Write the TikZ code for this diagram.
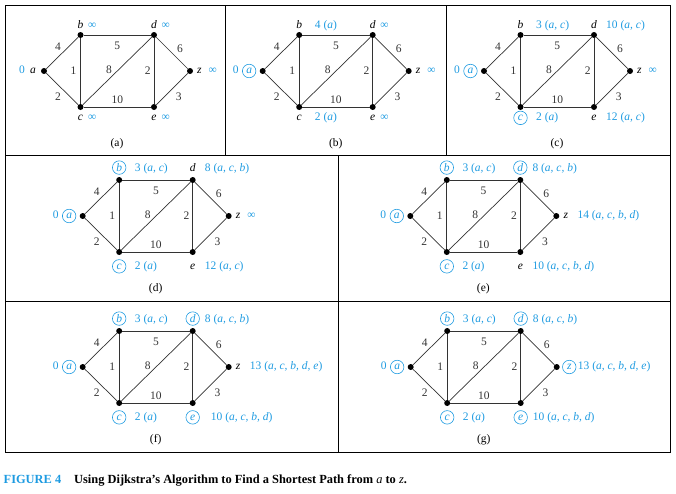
\documentclass[tikz,border=0pt]{standalone}
\usepackage{fontspec}
\setmainfont{Liberation Serif}
\usetikzlibrary{positioning, calc}

\definecolor{dijblue}{RGB}{30,155,225}
\newcommand{\lblfont}{\fontsize{11.5}{13.5}\selectfont}

% one copy of the weighted graph, vertices named #1a ... #1z
\newcommand{\dgraph}[4]{%
  \begin{scope}[shift={(#2,#3)}]
    \node[vtx] (#1a) at (0,0) {};
    \node[vtx] (#1b) at (36.5,-36) {};
    \node[vtx] (#1c) at (36.5,36) {};
    \node[vtx] (#1d) at (110,-36) {};
    \node[vtx] (#1e) at (110,36) {};
    \node[vtx] (#1z) at (146,0) {};
    \draw[link] (#1a) -- node[wt, xshift=-4.2pt, yshift=6.3pt] {4} (#1b);
    \draw[link] (#1a) -- node[wt, xshift=-4.2pt, yshift=-7.7pt] {2} (#1c);
    \draw[link] (#1b) -- node[wt, xshift=-7pt] {1} (#1c);
    \draw[link] (#1b) -- node[wt, yshift=-10.7pt] {5} (#1d);
    \draw[link] (#1c) -- node[wt, xshift=-8.2pt, yshift=1.7pt] {8} (#1d);
    \draw[link] (#1d) -- node[wt, xshift=-6.3pt] {2} (#1e);
    \draw[link] (#1c) -- node[wt, yshift=7.7pt] {10} (#1e);
    \draw[link] (#1d) -- node[wt, xshift=8pt, yshift=4.7pt] {6} (#1z);
    \draw[link] (#1e) -- node[wt, xshift=6.7pt, yshift=-7.7pt] {3} (#1z);
    \node[panelcap] (#1cap) at (73,72.5) {(#4)};
  \end{scope}}

\begin{document}
\begin{tikzpicture}[
  x=1pt, y=-1pt,
  vtx/.style={circle, fill=black, inner sep=0pt, minimum size=6pt},
  link/.style={black!80, line width=0.7pt},
  wt/.style={font=\lblfont, inner sep=0pt},
  tagp/.style={font=\lblfont, inner sep=1.5pt},
  seen/.style={circle, draw=dijblue, text=dijblue, line width=0.6pt,
    inner sep=0pt, minimum size=13.5pt, font=\lblfont},
  val/.style={font=\lblfont, text=dijblue, inner sep=0pt},
  spot a/.style={anchor=east, xshift=-6.5pt},
  spot b/.style={anchor=base, yshift=\tagrise},
  spot d/.style={anchor=base, yshift=\tagrise},
  spot c/.style={anchor=base, yshift=-\tagdrop},
  spot e/.style={anchor=base, yshift=-\tagdrop},
  spot z/.style={anchor=west, xshift=5.5pt},
  vspot a/.style={anchor=base east},
  vspot b/.style={anchor=base west},
  vspot c/.style={anchor=base west},
  vspot d/.style={anchor=base west},
  vspot e/.style={anchor=base west},
  vspot z/.style={anchor=base west},
  frame/.style={black, line width=0.8pt},
  panelcap/.style={font=\lblfont, inner sep=0pt},
  capno/.style={font=\fontsize{12.4}{14}\selectfont\bfseries, text=dijblue, inner sep=0pt},
  captext/.style={font=\fontsize{12.4}{14}\selectfont\bfseries, inner sep=0pt},
]
\useasboundingbox (0,0) rectangle (676,493);

% --- panel frames ---
\draw[frame] (5,5) rectangle (670.5,452);
\draw[frame] (5,155.7) -- (670.5,155.7);
\draw[frame] (5,301) -- (670.5,301);
\draw[frame] (225.5,5) -- (225.5,155.7);
\draw[frame] (446.5,5) -- (446.5,155.7);
\draw[frame] (338,155.7) -- (338,452);

% --- top row ---
\def\tagrise{7pt}\def\tagdrop{13.5pt}
\dgraph{A}{44}{71}{a}
\dgraph{B}{262.7}{71}{b}
\dgraph{C}{484}{71}{c}

\foreach \v/\k/\dx/\t in {a/tagp/-19/0, b/tagp/7.5/∞, c/tagp/7.5/∞,
    d/tagp/7.5/∞, e/tagp/7.5/∞, z/tagp/18.5/∞}{
  \node[\k, spot \v] (A\v t) at (A\v) {\textit{\v}};
  \node[val, vspot \v] (A\v v) at ($(A\v |- A\v t.base)+(\dx,0)$) {\t};
}
\foreach \v/\k/\dx/\t in {a/seen/-24/0, b/tagp/15.5/{4 (\textit{a})},
    c/tagp/15.5/{2 (\textit{a})}, d/tagp/7.5/∞, e/tagp/7.5/∞, z/tagp/18.5/∞}{
  \node[\k, spot \v] (B\v t) at (B\v) {\textit{\v}};
  \node[val, vspot \v] (B\v v) at ($(B\v |- B\v t.base)+(\dx,0)$) {\t};
}
\foreach \v/\k/\dx/\t in {a/seen/-24/0, b/tagp/15.5/{3 (\textit{a, c})},
    c/seen/15.5/{2 (\textit{a})}, d/tagp/12/{10 (\textit{a, c})},
    e/tagp/12/{12 (\textit{a, c})}, z/tagp/18.5/∞}{
  \node[\k, spot \v] (C\v t) at (C\v) {\textit{\v}};
  \node[val, vspot \v] (C\v v) at ($(C\v |- C\v t.base)+(\dx,0)$) {\t};
}

% --- middle row ---
\def\tagrise{8.5pt}\def\tagdrop{17pt}
\dgraph{D}{82.7}{216}{d}
\dgraph{E}{410.3}{216}{e}

\foreach \v/\k/\dx/\t in {a/seen/-24/0, b/seen/15.5/{3 (\textit{a, c})},
    c/seen/15.5/{2 (\textit{a})}, d/tagp/12/{8 (\textit{a, c, b})},
    e/tagp/12/{12 (\textit{a, c})}, z/tagp/18.5/∞}{
  \node[\k, spot \v] (D\v t) at (D\v) {\textit{\v}};
  \node[val, vspot \v] (D\v v) at ($(D\v |- D\v t.base)+(\dx,0)$) {\t};
}
\foreach \v/\k/\dx/\t in {a/seen/-24/0, b/seen/15.5/{3 (\textit{a, c})},
    c/seen/15.5/{2 (\textit{a})}, d/seen/12/{8 (\textit{a, c, b})},
    e/tagp/12/{10 (\textit{a, c, b, d})}, z/tagp/21/{14 (\textit{a, c, b, d})}}{
  \node[\k, spot \v] (E\v t) at (E\v) {\textit{\v}};
  \node[val, vspot \v] (E\v v) at ($(E\v |- E\v t.base)+(\dx,0)$) {\t};
}

% --- bottom row ---
\dgraph{F}{82.7}{367}{f}
\dgraph{G}{410.7}{367}{g}

\foreach \v/\k/\dx/\t in {a/seen/-24/0, b/seen/15.5/{3 (\textit{a, c})},
    c/seen/15.5/{2 (\textit{a})}, d/seen/12/{8 (\textit{a, c, b})},
    e/seen/18/{10 (\textit{a, c, b, d})}, z/tagp/21/{13 (\textit{a, c, b, d, e})}}{
  \node[\k, spot \v] (F\v t) at (F\v) {\textit{\v}};
  \node[val, vspot \v] (F\v v) at ($(F\v |- F\v t.base)+(\dx,0)$) {\t};
}
\foreach \v/\k/\dx/\t in {a/seen/-24/0, b/seen/15.5/{3 (\textit{a, c})},
    c/seen/15.5/{2 (\textit{a})}, d/seen/12/{8 (\textit{a, c, b})},
    e/seen/12/{10 (\textit{a, c, b, d})}, z/seen/21/{13 (\textit{a, c, b, d, e})}}{
  \node[\k, spot \v] (G\v t) at (G\v) {\textit{\v}};
  \node[val, vspot \v] (G\v v) at ($(G\v |- G\v t.base)+(\dx,0)$) {\t};
}

% --- caption ---
\node[capno, anchor=base west] (figno) at (3.5,483) {FIGURE 4};
\node[captext, anchor=base west] (figtext) at (74,483)
  {Using Dijkstra’s Algorithm to Find a Shortest Path from \textnormal{\textit{a}} to \textnormal{\textit{z}}.};

\end{tikzpicture}
\end{document}
